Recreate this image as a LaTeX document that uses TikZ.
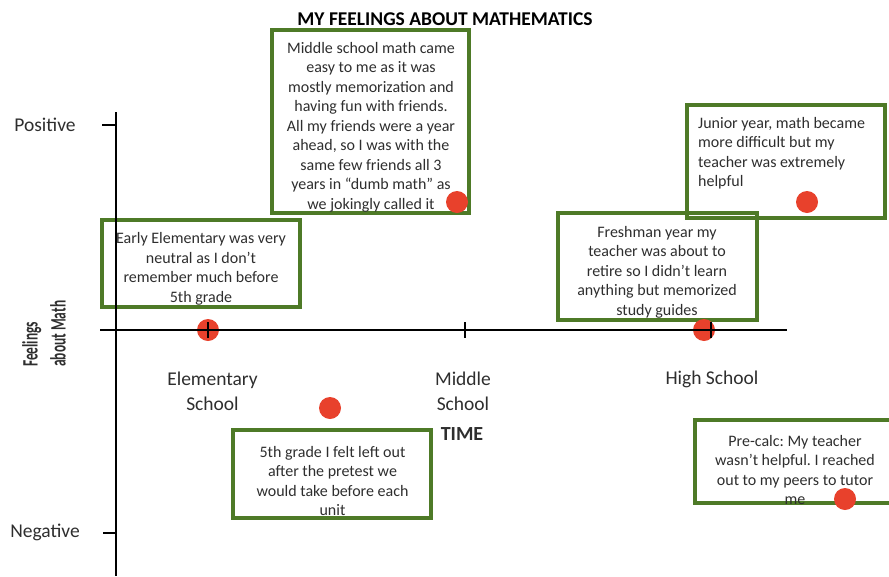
\documentclass[tikz,border=0pt]{standalone}
\usepackage{fontspec}
\setmainfont{Carlito}
\newfontfamily\condbold[FakeStretch=0.61]{Carlito Bold}
\definecolor{boxgreen}{HTML}{4E7A27}
\definecolor{dotred}{HTML}{E8412C}
\definecolor{txt}{HTML}{2E2E2E}
\frenchspacing
\begin{document}
\begin{tikzpicture}[x=1pt,y=-1pt,
  story/.style={draw=boxgreen,line width=3.5pt,inner sep=0pt},
  dot/.style={circle,fill=dotred,inner sep=0pt,minimum size=22pt},
  axis/.style={line width=1.6pt,black},
  tickmark/.style={line width=2pt,black},
  btext/.style={text=txt,font=\fontsize{16}{19.5}\selectfont,align=center,inner sep=0pt},
  lab/.style={text=txt,font=\fontsize{19.5}{25}\selectfont,align=center,inner sep=0pt}]
\useasboundingbox (0,0) rectangle (889,576);
% boxes
\node[story,minimum width=197pt,minimum height=183pt] (bmid) at (370.5,121.5) {};
\node[story,minimum width=198pt,minimum height=87pt] (bel) at (201,263.5) {};
\node[story,minimum width=198pt,minimum height=113pt] (bjun) at (786,161.5) {};
\node[story,minimum width=199pt,minimum height=107pt] (bfre) at (657.5,266.5) {};
\node[story,minimum width=198pt,minimum height=88pt] (bfifth) at (332,474) {};
\node[story,minimum width=200pt,minimum height=83pt] (bpre) at (795,461.5) {};
% dots
\node[dot] (d1) at (208,330) {};
\node[dot] (d2) at (457,202) {};
\node[dot] (d3) at (807,202) {};
\node[dot] (d4) at (704,330) {};
\node[dot] (d5) at (330,408) {};
\node[dot] (d6) at (845,499) {};
% axes
\coordinate (ytop) at (116,112);
\coordinate (ybot) at (116,576);
\coordinate (xl) at (100,330);
\coordinate (xr) at (787,330);
\draw[axis] (ytop) -- (ybot);
\draw[axis] (xl) -- (xr);
\coordinate (pt1) at (102,125); \coordinate (pt2) at (116,125);
\coordinate (nt1) at (103,533); \coordinate (nt2) at (116,533);
\draw[tickmark] (pt1) -- (pt2);
\draw[tickmark] (nt1) -- (nt2);
\coordinate (e1) at (208,322); \coordinate (e2) at (208,338);
\coordinate (m1) at (465,322); \coordinate (m2) at (465,338);
\coordinate (h1) at (711,322); \coordinate (h2) at (711,338);
\draw[tickmark] (e1) -- (e2);
\draw[tickmark] (m1) -- (m2);
\draw[tickmark] (h1) -- (h2);
% title and labels
\node[font=\bfseries\fontsize{19.5}{22}\selectfont,inner sep=0pt,text=black] (title) at (445,19) {MY FEELINGS ABOUT MATHEMATICS};
\node[lab] (pos) at (45,125) {Positive};
\node[lab] (neg) at (45,532) {Negative};
\node[lab] (elem) at (212.5,391) {Elementary\\School};
\node[lab] (midl) at (463,391) {Middle\\School};
\node[lab] (high) at (712,379) {High School};
\node[font=\bfseries\fontsize{20}{22}\selectfont,inner sep=0pt,text=txt] (time) at (462,434) {TIME};
\node[rotate=90,anchor=west,font=\condbold\fontsize{22}{28}\selectfont,align=left,inner sep=0pt,text=txt] (feel) at (44,367) {Feelings\\about Math};
% texts
\node[btext] (tmid) at (371,127) {Middle school math came\\easy to me as it was\\mostly memorization and\\having fun with friends.\\All my friends were a year\\ahead, so I was with the\\same few friends all 3\\years in \textquotedblleft dumb math\textquotedblright\ as\\we jokingly called it};
\node[btext] (tel) at (201,269) {Early Elementary was very\\neutral as I don\textquoteright t\\remember much before\\5th grade};
\node[btext,align=left,anchor=west] (tjun) at (698,153) {Junior year, math became\\more difficult but my\\teacher was extremely\\helpful};
\node[btext] (tfre) at (657,272) {Freshman year my\\teacher was about to\\retire so I didn\textquoteright t learn\\anything but memorized\\study guides};
\node[btext] (tfifth) at (332.5,481) {5th grade I felt left out\\after the pretest we\\would take before each\\unit};
\node[btext] (tpre) at (795,470) {Pre-calc: My teacher\\wasn\textquoteright t helpful. I reached\\out to my peers to tutor\\me};
\end{tikzpicture}
\end{document}
